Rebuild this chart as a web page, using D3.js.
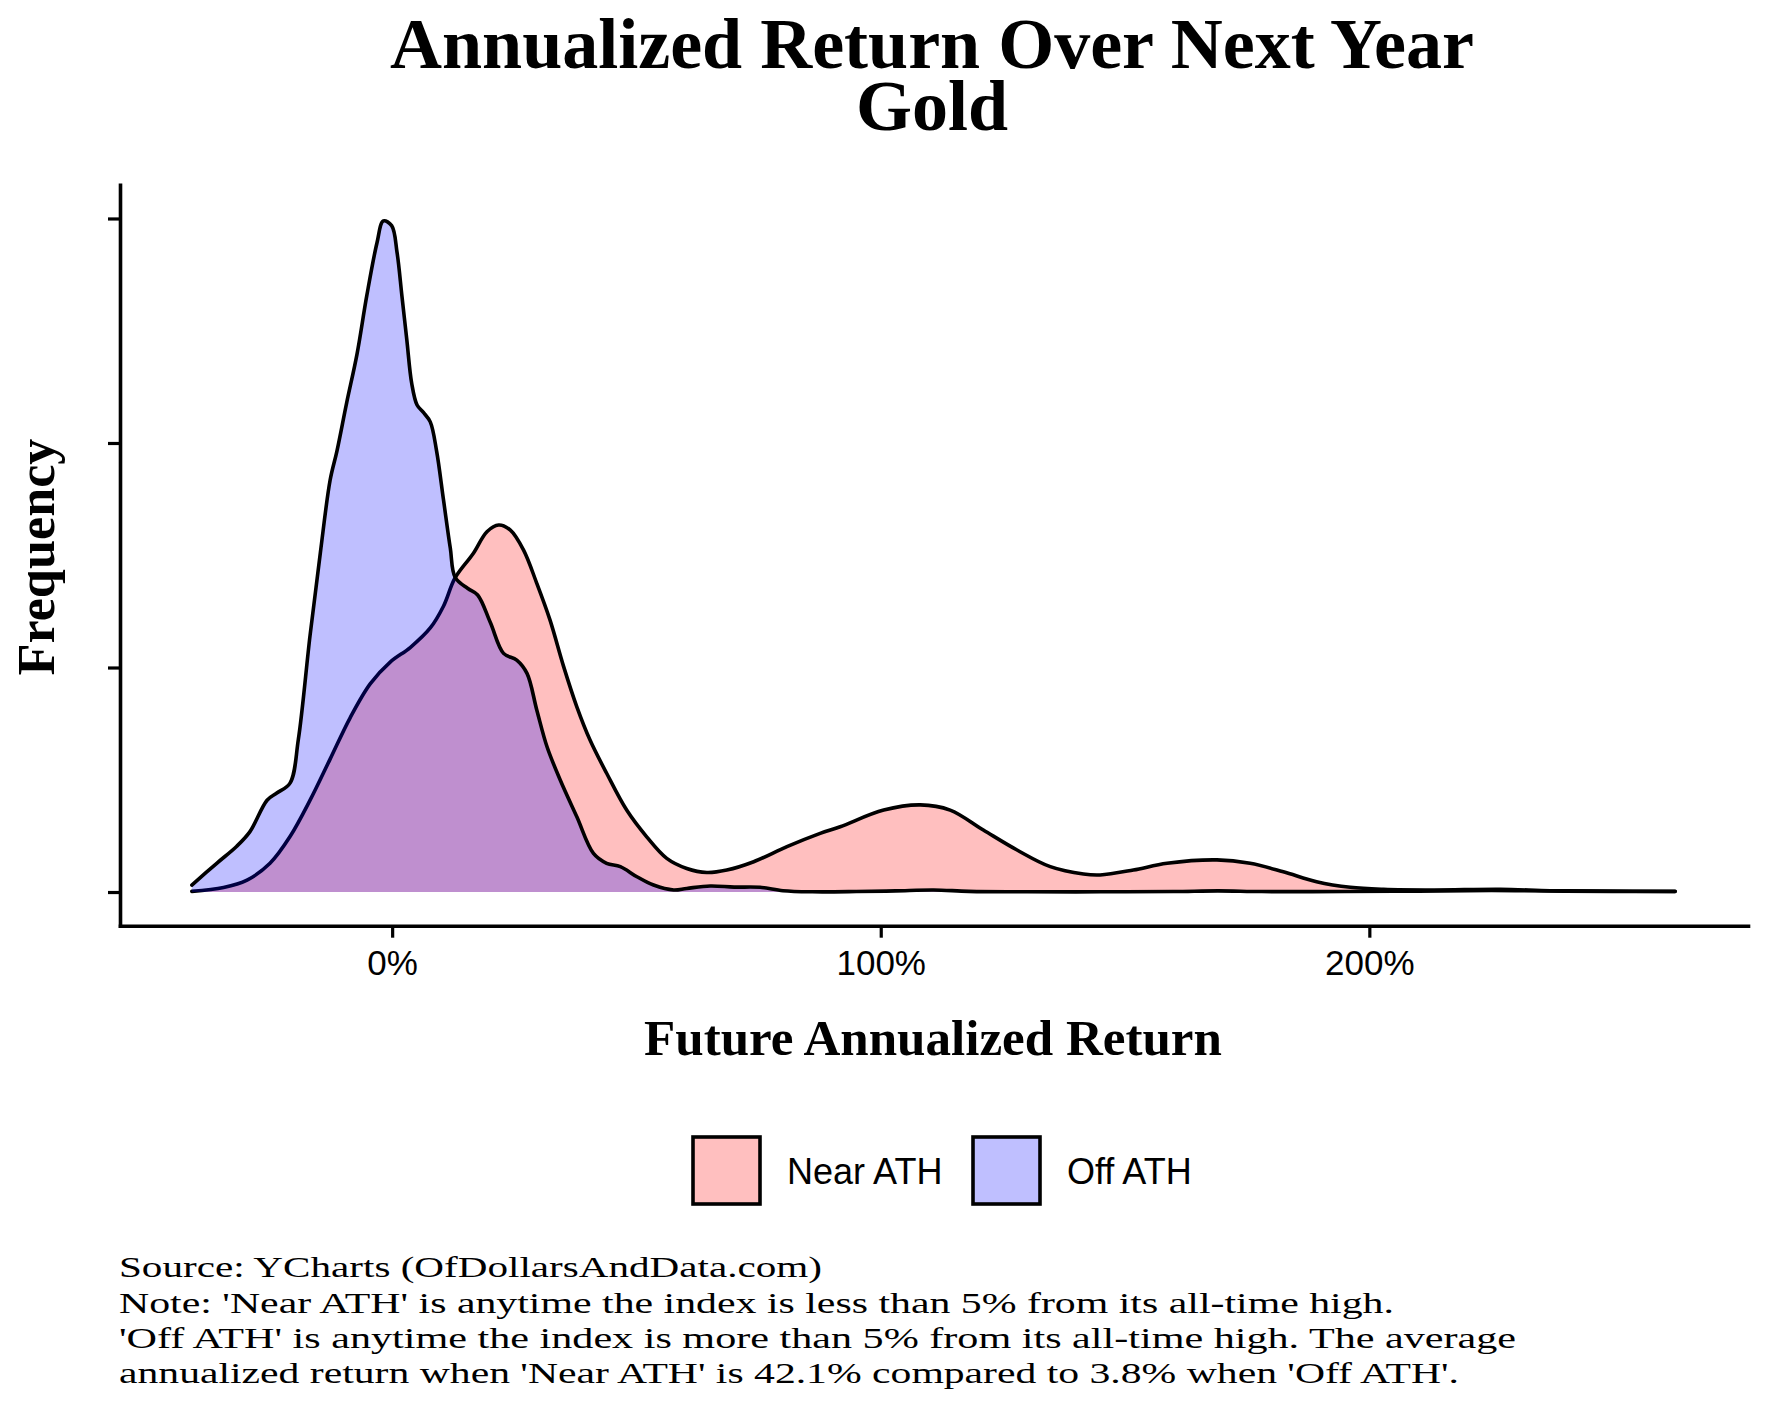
<!DOCTYPE html>
<html><head><meta charset="utf-8">
<script src="https://cdn.jsdelivr.net/npm/d3@7"></script>
<style>body{margin:0;background:#fff}</style>
</head><body>
<svg id="chart" width="1771" height="1417"></svg>
<script>
// ---------- data ----------
const seriesNames = ["Near ATH", "Off ATH"];
const seriesFills = ["#FF0000", "#0000FF"];

// Near ATH density (x = annualized return as fraction, y = density)
const nearReturns = [-0.41,-0.345,-0.297,-0.25,-0.209,-0.168,-0.127,-0.086,-0.045,-0.004,0.037,0.078,0.105,0.129,0.166,0.194,0.218,0.242,0.269,0.296,0.323,0.351,0.378,0.405,0.439,0.48,0.521,0.562,0.603,0.644,0.685,0.74,0.808,0.876,0.917,1.006,1.081,1.142,1.21,1.279,1.347,1.415,1.449,1.517,1.586,1.688,1.756,1.824,1.892,1.961,2.029,2.131,2.268,2.37,2.472,2.626];
const nearDensity = [0.003,0.02,0.053,0.128,0.247,0.409,0.592,0.776,0.927,1.024,1.089,1.176,1.273,1.40,1.508,1.605,1.635,1.612,1.523,1.375,1.212,1.004,0.825,0.677,0.529,0.365,0.246,0.15,0.105,0.087,0.098,0.135,0.202,0.261,0.291,0.365,0.388,0.365,0.276,0.187,0.113,0.08,0.076,0.098,0.128,0.143,0.128,0.09,0.046,0.021,0.012,0.009,0.012,0.006,0.004,0.003];

// Off ATH density
const offReturns = [-0.41,-0.359,-0.318,-0.291,-0.256,-0.236,-0.209,-0.192,-0.168,-0.147,-0.127,-0.113,-0.093,-0.072,-0.052,-0.031,-0.018,-0.001,0.01,0.02,0.03,0.04,0.051,0.064,0.078,0.091,0.105,0.119,0.129,0.155,0.175,0.201,0.228,0.255,0.276,0.296,0.317,0.344,0.378,0.412,0.439,0.467,0.501,0.535,0.576,0.603,0.651,0.70,0.753,0.80,0.86,0.95,1.03,1.108,1.18,1.30,1.45,1.60,1.69,1.78,1.95,2.10,2.25,2.40,2.626];
const offDensity = [0.031,0.128,0.204,0.269,0.409,0.441,0.485,0.679,1.143,1.51,1.834,1.964,2.18,2.395,2.655,2.892,2.989,2.968,2.849,2.655,2.46,2.266,2.169,2.136,2.094,1.964,1.748,1.532,1.402,1.352,1.323,1.2,1.063,1.033,0.974,0.811,0.647,0.499,0.335,0.172,0.128,0.113,0.068,0.031,0.009,0.016,0.027,0.022,0.021,0.006,0.001,0.002,0.005,0.009,0.003,0.001,0.001,0.002,0.005,0.002,0.002,0.004,0.007,0.004,0.002];

const xTickValues = [0, 1, 2];
const xTickLabels = ["0%", "100%", "200%"];
const yTickValues = [0, 1, 2, 3];

const titleLines = ["Annualized Return Over Next Year", "Gold"];
const xAxisTitle = "Future Annualized Return";
const yAxisTitle = "Frequency";
const captionLines = [
  "Source: YCharts (OfDollarsAndData.com)",
  "Note: 'Near ATH' is anytime the index is less than 5% from its all-time high.",
  "'Off ATH' is anytime the index is more than 5% from its all-time high. The average",
  "annualized return when 'Near ATH' is 42.1% compared to 3.8% when 'Off ATH'."
];

// ---------- layout ----------
const svg = d3.select("#chart");
const SERIF = "'Liberation Serif', 'DejaVu Serif', serif";
const SANS = "'Liberation Sans', Arial, sans-serif";

const x = d3.scaleLinear().domain([-0.557, 2.775]).range([120, 1748]);
const y = d3.scaleLinear().domain([-0.15, 3.15]).range([925.7, 184.8]);

function fit(sel, target) {
  const w = sel.node().getComputedTextLength();
  const fs = parseFloat(sel.attr("font-size"));
  const nfs = fs * target / w;
  sel.attr("font-size", nfs);
  return nfs;
}

// ---------- densities ----------
const series = [
  d3.zip(nearReturns, nearDensity),
  d3.zip(offReturns, offDensity)
];
const area = d3.area().x(d => x(d[0])).y0(y(0)).y1(d => y(d[1])).curve(d3.curveCatmullRom.alpha(0.5));
const line = d3.line().x(d => x(d[0])).y(d => y(d[1])).curve(d3.curveCatmullRom.alpha(0.5));

const g = svg.append("g");
series.forEach((s, i) => {
  g.append("path").attr("d", area(s)).attr("fill", seriesFills[i]).attr("fill-opacity", 0.25);
  g.append("path").attr("d", line(s)).attr("fill", "none").attr("stroke", "#000")
    .attr("stroke-width", 3.6).attr("stroke-linejoin", "round").attr("stroke-linecap", "round");
});

// ---------- axes ----------
const yAxis = svg.append("g").attr("transform", "translate(120,0)")
  .call(d3.axisLeft(y).tickValues(yTickValues).tickFormat("").tickSize(12).tickSizeOuter(0));
const xAxis = svg.append("g").attr("transform", "translate(0,925.7)")
  .call(d3.axisBottom(x).tickValues(xTickValues).tickFormat((d, i) => xTickLabels[i]).tickSize(12).tickSizeOuter(0));
[yAxis, xAxis].forEach(a => {
  a.select(".domain").attr("stroke", "#000").attr("stroke-width", 3.6).attr("stroke-linecap", "square");
  a.selectAll(".tick line").attr("stroke", "#000").attr("stroke-width", 3.2);
});
xAxis.selectAll(".tick text").attr("y", 49).attr("dy", 0)
  .attr("font-family", SANS).attr("font-size", 35).attr("fill", "#000");

// ---------- titles ----------
const t1 = svg.append("text").attr("x", 932).attr("y", 68).attr("text-anchor", "middle")
  .attr("font-family", SERIF).attr("font-weight", "bold").attr("font-size", 60).attr("fill", "#000").text(titleLines[0]);
const tfs = fit(t1, 1084);
svg.append("text").attr("x", 932).attr("y", 130).attr("text-anchor", "middle")
  .attr("font-family", SERIF).attr("font-weight", "bold").attr("font-size", tfs).attr("fill", "#000").text(titleLines[1]);

const xl = svg.append("text").attr("x", 933).attr("y", 1055).attr("text-anchor", "middle")
  .attr("font-family", SERIF).attr("font-weight", "bold").attr("font-size", 40).attr("fill", "#000").text(xAxisTitle);
fit(xl, 578);

const yl = svg.append("text").attr("transform", "translate(54,557) rotate(-90)").attr("text-anchor", "middle")
  .attr("font-family", SERIF).attr("font-weight", "bold").attr("font-size", 40).attr("fill", "#000").text(yAxisTitle);
fit(yl, 237);

// ---------- legend ----------
const legendX = [693, 973];
const legendTextX = [787, 1067];
seriesNames.forEach((name, i) => {
  svg.append("rect").attr("x", legendX[i]).attr("y", 1137).attr("width", 67).attr("height", 67)
    .attr("fill", seriesFills[i]).attr("fill-opacity", 0.25).attr("stroke", "#000").attr("stroke-width", 3.6);
  svg.append("text").attr("x", legendTextX[i]).attr("y", 1184).attr("font-family", SANS)
    .attr("font-size", 36).attr("fill", "#000").text(name);
});

// ---------- caption ----------
const capBase = [1277, 1313, 1348, 1383];
const capWidths = [703, 1275, 1397, 1340];
captionLines.forEach((t, i) => {
  svg.append("text").attr("x", 119).attr("y", capBase[i])
    .attr("font-family", SERIF).attr("font-size", 29.5).attr("fill", "#000")
    .attr("textLength", capWidths[i]).attr("lengthAdjust", "spacingAndGlyphs").text(t);
});
</script>
</body></html>
